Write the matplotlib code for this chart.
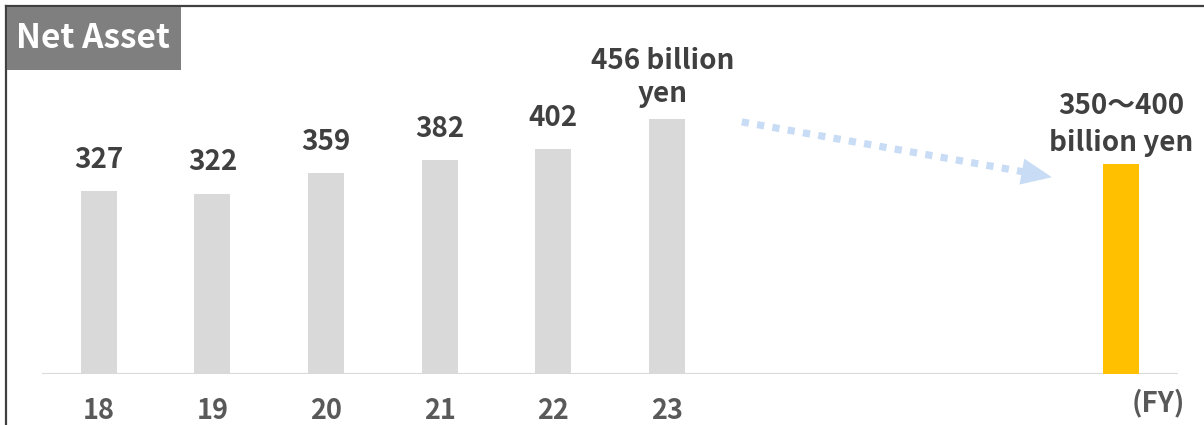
import matplotlib
matplotlib.use("Agg")
import matplotlib.pyplot as plt
from matplotlib.patches import Rectangle
from matplotlib.lines import Line2D

plt.rcParams['font.family'] = ['Noto Sans CJK JP', 'DejaVu Sans']

# Data
years = ["18", "19", "20", "21", "22", "23"]
values = [327, 322, 359, 382, 402, 456]
value_labels = ["327", "322", "359", "382", "402", "456 billion\nyen"]
target_value = 375
target_label = "350～400\nbillion yen"
title = "Net Asset"
fy_label = "(FY)"

W, H = 1204, 425
fig = plt.figure(figsize=(W / 100, H / 100), dpi=100)

# axes: x from 42px to 1178px, baseline at y=374px, top at y=10px
ax = fig.add_axes([42 / W, 1 - 374 / H, (1178 - 42) / W, (374 - 10) / H])
ax.set_xlim(-0.5, 9.5)
ax.set_ylim(0, 364 / 0.559)
for s in ax.spines.values():
    s.set_visible(False)
ax.axhline(0, color='#d9d9d9', lw=1.5, zorder=1)
ax.set_yticks([])
ax.set_xticks([])

xs = list(range(len(years)))
bw = 36 / 113.56
ax.bar(xs, values, width=bw, color='#d9d9d9', zorder=2)
target_x = 9
ax.bar([target_x], [target_value], width=bw, color='#ffc000', zorder=2)

lab_color = '#404040'
for x, v, lab in zip(xs, values, value_labels):
    multi = "\n" in lab
    ax.annotate(lab, (x, v), xytext=(-3 if multi else 0, 12 if multi else 17),
                textcoords='offset points', ha='center', va='baseline',
                fontsize=20, fontweight='bold', color=lab_color,
                linespacing=1.25)
ax.annotate(target_label, (target_x, target_value), xytext=(0, 9.5),
            textcoords='offset points', ha='center', va='baseline',
            fontsize=20, fontweight='bold', color=lab_color, linespacing=1.4)

# tick labels
for x, y in zip(xs, years):
    ax.text(x, -45 / 0.559, y, ha='center', va='baseline', fontsize=19.5,
            fontweight='bold', color='#595959')
ax.text(9.33, -37 / 0.559, fy_label, ha='center', va='baseline', fontsize=20,
        fontweight='bold', color='#595959')

# dotted arrow
arrow_color = '#c9dcf5'
ax.plot([5.66, 8.13], [451, 362], color=arrow_color, lw=5.2,
        dashes=(1.0, 1.15), solid_capstyle='butt', dash_capstyle='butt', zorder=3)
ax.annotate("", xy=(8.39, 352), xytext=(8.10, 363),
            arrowprops=dict(arrowstyle='-|>,head_length=2.2,head_width=0.95',
                            lw=0, color=arrow_color, shrinkA=0, shrinkB=0,
                            mutation_scale=10), zorder=3)

# title box
fig.patches.append(Rectangle((7 / W, 1 - 70 / H), (181 - 7) / W, (70 - 7) / H,
                             transform=fig.transFigure, facecolor='#7f7f7f',
                             edgecolor='none', zorder=5))
fig.text(93 / W, 1 - 48 / H, title, ha='center', va='baseline', fontsize=24,
         fontweight='bold', color='white', zorder=6)

# frame lines (left and top)
fig.lines.append(Line2D([5.5 / W, 5.5 / W], [0, 1 - 5.5 / H], transform=fig.transFigure,
                        color='#404040', lw=1.6))
fig.lines.append(Line2D([5.5 / W, 1], [1 - 5.5 / H, 1 - 5.5 / H], transform=fig.transFigure,
                        color='#404040', lw=1.6))

fig.savefig("out.png", dpi=100)
